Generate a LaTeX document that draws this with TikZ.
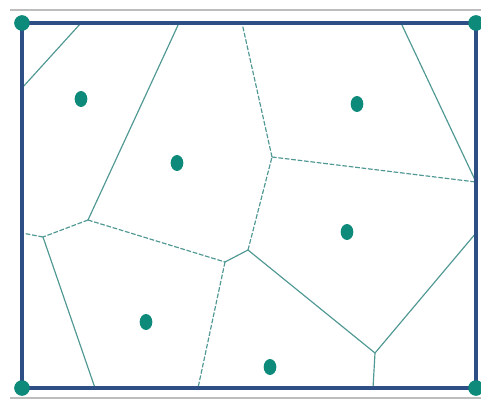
\documentclass[tikz,border=0pt]{standalone}
\usepackage{tikz}
\usetikzlibrary{positioning,shapes.geometric}
\definecolor{frameblue}{HTML}{2D4F86}
\definecolor{siteteal}{HTML}{0E8A7B}
\definecolor{edgeteal}{HTML}{4F9893}
\definecolor{rulegray}{HTML}{BDBDBD}

\begin{document}
\begin{tikzpicture}[x=0.03cm, y=-0.03cm,
    site/.style={ellipse, fill=siteteal, inner sep=0pt, minimum width=0.38cm, minimum height=0.48cm},
    corner/.style={circle, fill=siteteal, inner sep=0pt, minimum size=0.46cm},
    edge/.style={draw=edgeteal, line width=1pt},
    brokenedge/.style={edge, dash pattern=on 4pt off 1.5pt},
    frame/.style={draw=frameblue, line width=3pt},
    rule/.style={draw=rulegray, line width=1.2pt}]

    \useasboundingbox (0,0) rectangle (481,399);

    % points where the cells meet the frame
    \coordinate (t1) at (81,23);
    \coordinate (t2) at (179,23);
    \coordinate (t3) at (242,23);
    \coordinate (t4) at (401,23);
    \coordinate (l1) at (22,88);
    \coordinate (l2) at (22,233);
    \coordinate (r1) at (476,182);
    \coordinate (r2) at (476,233);
    \coordinate (b1) at (95,388);
    \coordinate (b2) at (198,388);
    \coordinate (b3) at (373,388);

    % inner vertices
    \coordinate (v1) at (88,220);
    \coordinate (v2) at (43,237);
    \coordinate (v3) at (225,262);
    \coordinate (v4) at (248,250);
    \coordinate (v5) at (272,157);
    \coordinate (v6) at (375,353);

    \coordinate (ul) at (10,10);
    \coordinate (ur) at (481,10);
    \coordinate (ll) at (10,398);
    \coordinate (lr) at (481,398);
    \draw[rule] (ul) -- (ur);
    \draw[rule] (ll) -- (lr);

    % cell borders
    \draw[edge] (t1) -- (l1);
    \draw[edge] (t2) -- (v1);
    \draw[brokenedge] (v1) -- (v2);
    \draw[brokenedge] (v2) -- (l2);
    \draw[edge] (v2) -- (b1);
    \draw[brokenedge] (v1) -- (v3);
    \draw[brokenedge] (v3) -- (b2);
    \draw[edge] (v3) -- (v4);
    \draw[brokenedge] (v4) -- (v5);
    \draw[brokenedge] (v5) -- (t3);
    \draw[brokenedge] (v5) -- (r1);
    \draw[edge] (t4) -- (r1);
    \draw[edge] (v4) -- (v6);
    \draw[edge] (v6) -- (b3);
    \draw[edge] (v6) -- (r2);

    \node[corner] (tl) at (22,23) {};
    \node[corner] (tr) at (476,23) {};
    \node[corner] (bl) at (22,388) {};
    \node[corner] (br) at (476,388) {};
    \draw[frame] (tl.center) -- (tr.center) -- (br.center) -- (bl.center) -- cycle;
    \node[corner] at (tl) {};
    \node[corner] at (tr) {};
    \node[corner] at (bl) {};
    \node[corner] at (br) {};

    % sites
    \node[site] (s1) at (81,99) {};
    \node[site] (s2) at (177,163) {};
    \node[site] (s3) at (357,104) {};
    \node[site] (s4) at (347,232) {};
    \node[site] (s5) at (146,322) {};
    \node[site] (s6) at (270,367) {};
\end{tikzpicture}
\end{document}
